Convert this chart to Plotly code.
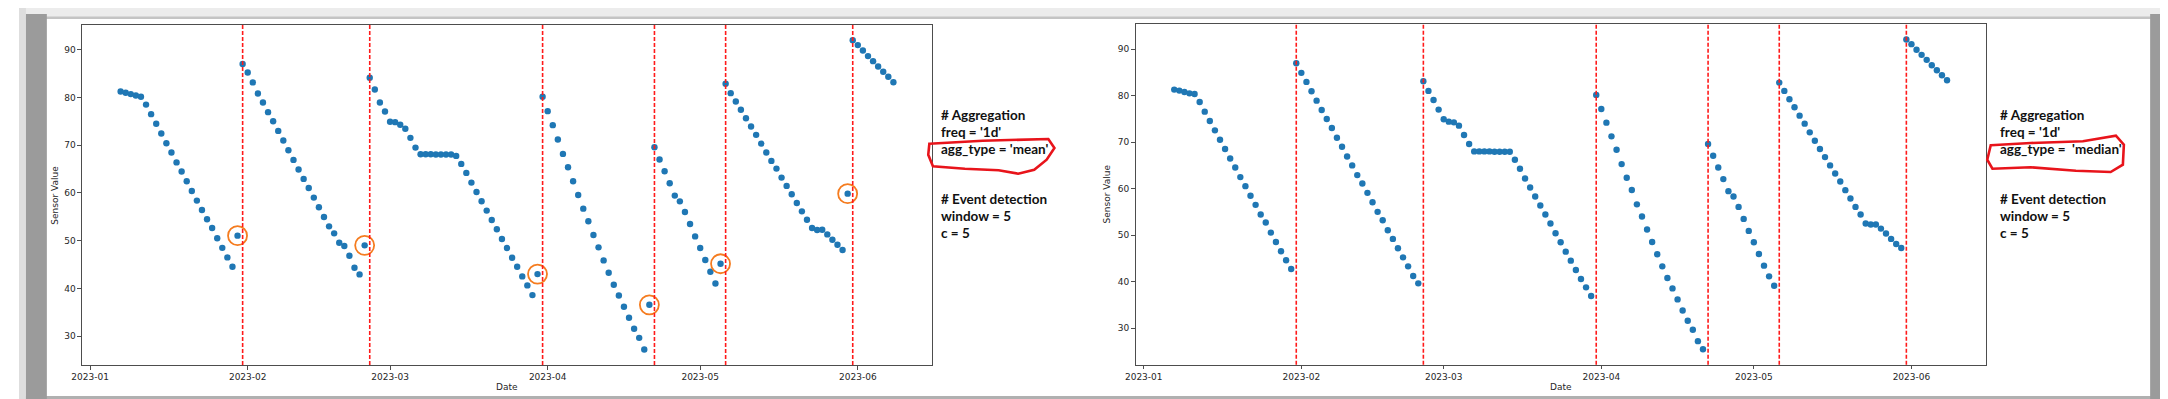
import pandas as pd
import plotly.graph_objects as go

W, H = 2168, 399

# ---------------- data ----------------
dates = pd.date_range("2023-01-07", "2023-06-08", freq="D")

mean_values = [
    # Jan 07 - Jan 30
    81.26, 80.98, 80.70, 80.42, 80.14, 78.50, 76.50, 74.50, 72.45, 70.40, 68.46, 66.40,
    64.50, 62.45, 60.40, 58.40, 56.43, 54.50, 52.66, 50.50, 48.50, 46.50, 44.55, 51.05,
    # Jan 31 - Feb 24
    87.00, 85.24, 83.15, 80.84, 78.95, 76.92, 75.03, 73.00, 70.98, 68.95, 66.92, 64.90,
    62.94, 61.05, 59.02, 57.00, 54.97, 53.00, 51.54, 49.58, 48.88, 46.85, 44.34, 42.94, 49.02,
    # Feb 25 - Mar 30
    84.13, 81.68, 78.95, 77.06, 74.90, 74.83, 74.27, 73.43, 71.54, 69.50, 68.10, 68.10,
    68.10, 68.05, 68.05, 68.05, 68.05, 67.76, 66.08, 64.20, 62.17, 60.20, 58.25, 56.30,
    54.34, 52.38, 50.35, 48.46, 46.43, 44.55, 42.52, 40.63, 38.60, 43.00,
    # Mar 31 - Apr 21
    80.14, 77.13, 74.20, 71.20, 68.18, 65.38, 62.45, 59.58, 56.71, 54.06, 51.19, 48.60,
    45.87, 43.29, 40.77, 38.53, 36.15, 33.85, 31.54, 29.65, 27.20, 36.57,
    # Apr 22 - May 05
    69.57, 66.99, 64.53, 62.02, 59.44, 58.24, 56.02, 53.50, 50.90, 48.46, 45.95, 43.49, 41.04, 45.17,
    # May 06 - May 30
    82.87, 80.90, 79.15, 77.41, 75.65, 73.91, 72.17, 70.34, 68.46, 66.71, 65.10, 63.21,
    61.47, 59.71, 57.90, 56.14, 54.40, 52.66, 52.24, 52.30, 51.32, 50.20, 49.16, 48.05, 59.85,
    # May 31 - Jun 08
    92.00, 90.97, 89.85, 88.66, 87.61, 86.50, 85.39, 84.34, 83.20,
]

median_values = [
    81.30, 81.09, 80.80, 80.50, 80.37, 78.65, 76.56, 74.55, 72.54, 70.53, 68.52, 66.50,
    64.56, 62.48, 60.54, 58.46, 56.52, 54.43, 52.71, 50.55, 48.54, 46.53, 44.59, 42.72,
    86.98, 84.90, 82.96, 80.95, 78.93, 76.92, 74.98, 73.04, 70.96, 69.02, 66.93, 65.00,
    62.91, 61.11, 59.10, 57.09, 55.01, 53.21, 51.05, 49.19, 47.17, 45.23, 43.29, 41.21, 39.63,
    83.10, 81.02, 79.08, 77.00, 74.91, 74.41, 74.26, 73.55, 71.53, 69.59, 68.01, 68.01,
    68.01, 68.01, 67.94, 67.94, 67.94, 67.94, 66.22, 64.28, 62.19, 60.25, 58.31, 56.37,
    54.43, 52.49, 50.41, 48.47, 46.45, 44.52, 42.50, 40.56, 38.77, 36.90,
    80.16, 77.14, 74.19, 71.25, 68.37, 65.28, 62.34, 59.70, 56.62, 54.00, 51.20, 48.54,
    45.88, 43.29, 40.78, 38.55, 36.18, 33.81, 31.58, 29.64, 27.20, 25.47,
    69.59, 67.08, 64.56, 62.05, 59.46, 58.31, 56.08, 53.50, 50.91, 48.47, 45.95, 43.44, 41.14, 39.13,
    82.81, 81.02, 79.22, 77.50, 75.70, 73.98, 72.11, 70.31, 68.52, 66.79, 65.00, 63.27,
    61.55, 59.68, 57.88, 56.08, 54.43, 52.49, 52.28, 52.28, 51.41, 50.34, 49.19, 48.11, 47.25,
    92.08, 91.08, 89.86, 88.78, 87.70, 86.55, 85.47, 84.40, 83.32,
]

event_dates = ["2023-01-31", "2023-02-25", "2023-03-31", "2023-04-22", "2023-05-06", "2023-05-31"]
circled_dates = ["2023-01-30", "2023-02-24", "2023-03-30", "2023-04-21", "2023-05-05", "2023-05-30"]

x_tickvals = ["2023-01-01", "2023-02-01", "2023-03-01", "2023-04-01", "2023-05-01", "2023-06-01"]
x_ticktext = ["2023-01", "2023-02", "2023-03", "2023-04", "2023-05", "2023-06"]
y_tickvals = [30, 40, 50, 60, 70, 80, 90]

notes_mean = ["# Aggregation", "freq = '1d'", "agg_type = 'mean'", "", "# Event detection", "window = 5", "c = 5"]
notes_median = ["# Aggregation", "freq = '1d'", "agg_type = \u00a0'median'", "", "# Event detection", "window = 5", "c = 5"]

# ---------------- helpers ----------------
def px(x):
    return x / W

def py(y):
    return 1 - y / H

def mpl_range(vals):
    lo, hi = min(vals), max(vals)
    m = 0.05 * (hi - lo)
    return [lo - m, hi + m]

d0, d1 = dates.min(), dates.max()
span = d1 - d0
x_range = [d0 - 0.05 * span, d1 + 0.05 * span]

BLUE = "#1f77b4"
TXT = "#262626"
SPINE = "#4d4d4d"
TICKFONT = dict(family="DejaVu Sans", size=9, color=TXT)
MSIZE = 6.4

fig = go.Figure()

fig.add_trace(go.Scatter(x=dates, y=mean_values, mode="markers",
                         marker=dict(color=BLUE, size=MSIZE), xaxis="x", yaxis="y",
                         showlegend=False))
circ_idx = [list(dates.strftime("%Y-%m-%d")).index(d) for d in circled_dates]
fig.add_trace(go.Scatter(x=[dates[i] for i in circ_idx], y=[mean_values[i] for i in circ_idx],
                         mode="markers",
                         marker=dict(symbol="circle-open", size=19,
                                     line=dict(color="#f57c1f", width=1.8), color="#f57c1f"),
                         xaxis="x", yaxis="y", showlegend=False))
fig.add_trace(go.Scatter(x=dates, y=median_values, mode="markers",
                         marker=dict(color=BLUE, size=MSIZE), xaxis="x2", yaxis="y2",
                         showlegend=False))

# axes geometry (pixels)
L1 = (63.3, 917.7, 16.7, 357.0)
L2 = (1122.3, 1976.7, 16.0, 356.7)

def xaxis(dom, anchor):
    return dict(domain=[px(dom[0]), px(dom[1])], anchor=anchor, type="date",
                range=x_range, tickvals=x_tickvals, ticktext=x_ticktext,
                showgrid=False, zeroline=False, showline=True, mirror=True,
                linecolor=SPINE, linewidth=1, ticks="outside", ticklen=3.5,
                tickcolor=SPINE, tickwidth=0.8, tickfont=TICKFONT)

def yaxis(dom, anchor, vals):
    return dict(domain=[py(dom[3]), py(dom[2])], anchor=anchor,
                range=mpl_range(vals), tickvals=y_tickvals,
                showgrid=False, zeroline=False, showline=True, mirror=True,
                linecolor=SPINE, linewidth=1, ticks="outside", ticklen=3.5,
                tickcolor=SPINE, tickwidth=0.8, tickfont=TICKFONT)

shapes = []
# frame (screenshot border)
frame = [
    (0, 0, W, 11, "#ececec"), (0, 8.5, W, 11, "#c4c4c4"),
    (0, 388, W, H, "#ececec"), (0, 388, W, 391, "#b0b0b0"),
    (0, 0, 7, H, "#dedede"), (7, 6, 28, 394, "#9b9b9b"),
    (2158, 0, W, H, "#dedede"), (2142, 6, 2158, 394, "#9b9b9b"),
]
for x0, y0, x1, y1, c in frame:
    shapes.append(dict(type="rect", xref="paper", yref="paper", x0=px(x0), x1=px(x1),
                       y0=py(y1), y1=py(y0), fillcolor=c, line=dict(width=0), layer="below"))

# event lines
for xa, ya in (("x", "y domain"), ("x2", "y2 domain")):
    for d in event_dates:
        shapes.append(dict(type="line", xref=xa, yref=ya, x0=d, x1=d, y0=0, y1=1,
                           line=dict(color="#ff1a1a", width=1.6, dash="4px,2px")))

# hand-drawn red loops around agg_type
def path_from(points):
    s = "M " + " L ".join(f"{px(x):.5f},{py(y):.5f}" for x, y in points) + " Z"
    return s

loop1 = [(915, 135.7), (968.6, 132.7), (1034.6, 131), (1040.7, 140), (1032.9, 151.7),
         (1020.4, 161.7), (1004.3, 165.7), (984.6, 162.3), (950.7, 160.7), (918.6, 158.3),
         (913.9, 146.7)]
loop2 = [(1981.8, 137.3), (2022, 135), (2074.4, 133.3), (2107.6, 127.7), (2115.6, 136.7),
         (2114.6, 156.7), (2102.3, 164), (2067.4, 162.7), (2022, 159.3), (1983.5, 160.7),
         (1978.3, 151.7)]
for lp in (loop1, loop2):
    shapes.append(dict(type="path", xref="paper", yref="paper", path=path_from(lp),
                       line=dict(color="#e8141b", width=2.6)))

annotations = []
def ann(x, y, text, **kw):
    d = dict(xref="paper", yref="paper", x=px(x), y=py(y), text=text, showarrow=False)
    d.update(kw)
    annotations.append(d)

for (l, r, t, b), xt in ((L1, 36), (L2, 1093.6)):
    ann((l + r) / 2, 379, "Date", xanchor="center", yanchor="middle", font=TICKFONT)
    ann(xt, (t + b) / 2, "Sensor Value", textangle=-90, xanchor="center", yanchor="middle",
        font=TICKFONT)

note_y = [107.3, 124.2, 141.1, 158, 191.4, 208.2, 225.2]
for x0, notes in ((924.6, notes_mean), (1988.7, notes_median)):
    for yy, tx in zip(note_y, notes):
        if tx:
            ann(x0, yy, tx, xanchor="left", yanchor="middle",
                font=dict(family="Lato", size=13.5, color="#111111", weight="bold"))

fig.update_layout(
    width=W, height=H, autosize=False,
    margin=dict(l=0, r=0, t=0, b=0),
    paper_bgcolor="white", plot_bgcolor="white",
    xaxis=xaxis(L1, "y"), yaxis=yaxis(L1, "x", mean_values),
    xaxis2=xaxis(L2, "y2"), yaxis2=yaxis(L2, "x2", median_values),
    shapes=shapes, annotations=annotations,
)

fig.write_html("out.html")
